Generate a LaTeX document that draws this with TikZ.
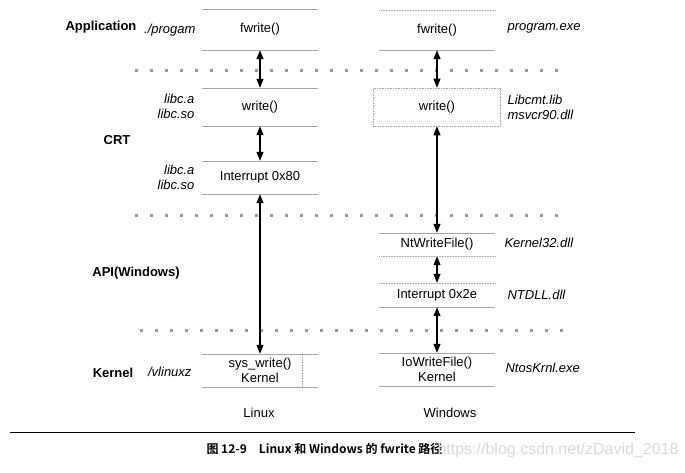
\documentclass[tikz,border=0pt]{standalone}
\usepackage{fontspec}
\setmainfont{Liberation Sans}
\newfontfamily\cjk{Noto Sans CJK SC}[BoldFont={Noto Sans CJK SC Bold}]
\usetikzlibrary{arrows.meta}
\usetikzlibrary{calc}

\begin{document}
\begin{tikzpicture}[x=1pt,y=-1pt,
  >={Triangle[width=7pt,length=9pt]},
  every node/.style={font=\fontsize{13}{15}\selectfont},
  layer/.style={inner sep=0pt,minimum width=115pt},
  side/.style={font=\fontsize{13}{15}\selectfont\itshape,align=left},
  tier/.style={font=\fontsize{13}{15}\selectfont\bfseries},
  rule/.style={gray!70,line width=0.6pt},
  sep/.style={gray!80,line width=3pt,dash pattern=on 3pt off 12pt},
  call/.style={<->,line width=1.1pt}]
\useasboundingbox (0,0) rectangle (685,472);

% layer names
\node[tier] (app) at (101,27){Application};
\node[tier] (crt) at (117,140){CRT};
\node[tier] (api) at (136,273){API(Windows)};
\node[tier] (ker) at (113,373){Kernel};

% separators
\draw[sep] (135,70) -- (565,70);
\draw[sep] (135,215) -- (565,215);
\draw[sep] (140,330) -- (572,330);

% Linux column
\node[layer,minimum height=41pt] (lfw) at (260,29.5){fwrite()};
\node[layer,minimum height=38pt] (lwr) at (260,107){write()};
\node[layer,minimum height=33pt] (lint) at (260,177.5){Interrupt 0x80};
\node[layer,minimum height=33pt,align=center] (lsys) at (260,370.5){sys\_write()\\Kernel};
\foreach \n in {lfw,lwr,lint,lsys}{
  \draw[rule] (\n.north west) -- (\n.north east);
  \draw[rule] (\n.south west) -- (\n.south east);
}
\draw[rule,densely dotted] ($(lsys.north east)+(-15,0)$) -- ($(lsys.south east)+(-15,0)$);

% Windows column
\node[layer,minimum height=40pt] (rfw) at (437,30){fwrite()};
\node[layer,minimum width=127pt,minimum height=38pt,draw=gray!70,densely dotted,line width=0.6pt] (rwr) at (437,107){write()};
\node[layer,minimum height=23pt] (rnt) at (437,244.5){NtWriteFile()};
\node[layer,minimum height=24pt] (rint) at (437,295){Interrupt 0x2e};
\node[layer,minimum height=33pt,align=center] (rio) at (437,369.5){IoWriteFile()\\Kernel};
\draw[rule,densely dotted] (rfw.north west) -- (rfw.north east);
\draw[rule] (rfw.south west) -- (rfw.south east);
\draw[rule] (rnt.north west) -- (rnt.north east);
\draw[rule,densely dotted] (rnt.south west) -- (rnt.south east);
\draw[rule,densely dotted] (rint.north west) -- (rint.north east);
\draw[rule] (rint.south west) -- (rint.south east);
\draw[rule] (rio.north west) -- (rio.north east);
\draw[rule] (rio.south west) -- (rio.south east);

% files
\node[side,anchor=east] (prog) at (199,30){./progam};
\node[side,anchor=east,align=right] (libc1) at (198,106){libc.a\\libc.so};
\node[side,anchor=east,align=right] (libc2) at (198,177){libc.a\\libc.so};
\node[side,anchor=east] (vml) at (195,372){/vlinuxz};
\node[side,anchor=west] (exe) at (504,28){program.exe};
\node[side,anchor=west] (crtlib) at (504,107){Libcmt.lib\\msvcr90.dll};
\node[side,anchor=west] (k32) at (501,243){Kernel32.dll};
\node[side,anchor=west] (ntdll) at (504,295){NTDLL.dll};
\node[side,anchor=west] (ntos) at (502,368){NtosKrnl.exe};

% calls
\draw[call] (lfw) -- (lwr);
\draw[call] (lwr) -- (lint);
\draw[call] (lint) -- (lsys);
\draw[call] (rfw) -- (rwr);
\draw[call] (rwr) -- (rnt);
\draw[call] (rnt) -- (rint);
\draw[call] (rint) -- (rio);

\node (linux) at (259,413){Linux};
\node (win) at (450,413){Windows};

% caption
\draw[line width=1pt] (10,432) -- (635,432);
\node[anchor=west,font=\fontsize{12}{14}\selectfont\cjk\bfseries] (cap) at (203,449){图 12-9\quad Linux 和 Windows 的 fwrite 路径};
\node[anchor=west,text=gray!30,font=\fontsize{16}{18}\selectfont] (mark) at (434,450){https://blog.csdn.net/zDavid\_2018};
\end{tikzpicture}
\end{document}
